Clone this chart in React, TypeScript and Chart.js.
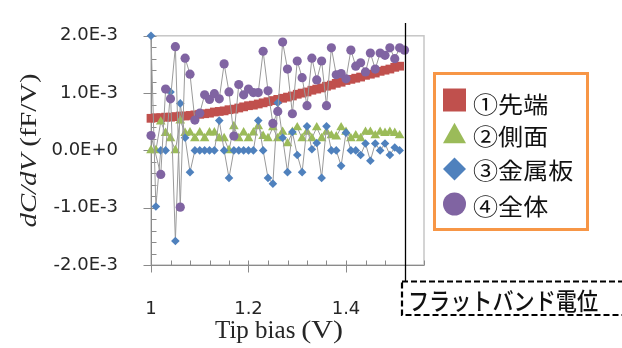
import React, { useEffect, useRef } from 'react';
import { Chart, registerables } from 'chart.js';

Chart.register(...registerables);

// Tip bias (V)
const biasV = [
  1.00, 1.01, 1.02, 1.03, 1.04, 1.05, 1.06, 1.07, 1.08, 1.09,
  1.10, 1.11, 1.12, 1.13, 1.14, 1.15, 1.16, 1.17, 1.18, 1.19,
  1.20, 1.21, 1.22, 1.23, 1.24, 1.25, 1.26, 1.27, 1.28, 1.29,
  1.30, 1.31, 1.32, 1.33, 1.34, 1.35, 1.36, 1.37, 1.38, 1.39,
  1.40, 1.41, 1.42, 1.43, 1.44, 1.45, 1.46, 1.47, 1.48, 1.49,
  1.50, 1.51, 1.52,
];

// dC/dV in units of 1E-3 fF/V
const tipValues = [
  0.56, 0.57, 0.57, 0.58, 0.58, 0.59, 0.60, 0.60, 0.61, 0.62,
  0.63, 0.64, 0.65, 0.67, 0.68, 0.69, 0.71, 0.72, 0.74, 0.76,
  0.78, 0.79, 0.81, 0.83, 0.85, 0.87, 0.89, 0.91, 0.93, 0.95,
  0.98, 1.00, 1.02, 1.05, 1.07, 1.09, 1.12, 1.14, 1.17, 1.19,
  1.22, 1.24, 1.26, 1.28, 1.31, 1.33, 1.35, 1.38, 1.40, 1.42,
  1.45, 1.47,
];

const sideValues = [
  0.00, 0.00, 0.50, 0.30, 0.21, 0.00, 0.52, 0.30, 0.31, 0.21,
  0.31, 0.21, 0.31, 0.31, 0.21, 0.21, 0.00, 0.42, 0.21, 0.31,
  0.21, 0.31, 0.42, 0.25, 0.21, 0.40, 0.21, 0.32, 0.12, 0.32,
  0.40, 0.21, 0.32, 0.21, 0.40, 0.21, 0.32, 0.26, 0.24, 0.40,
  0.32, 0.21, 0.26, 0.21, 0.32, 0.32, 0.26, 0.32, 0.30, 0.32,
  0.30, 0.26,
];

const plateValues = [
  2.00, -0.98, 0.00, 0.00, 1.02, -1.58, 0.82, 0.22, -0.38, 0.00,
  0.00, 0.00, 0.00, 0.00, 0.52, 0.00, -0.48, 0.00, 0.00, 0.00,
  0.00, 0.00, 0.52, 0.00, -0.48, -0.58, 0.83, 0.22, -0.38, 0.32,
  -0.08, -0.38, 0.42, 0.02, 0.13, -0.48, 0.42, 0.00, 0.00, -0.27,
  0.31, 0.00, 0.00, -0.08, 0.12, -0.18, 0.12, 0.00, 0.12, -0.08,
  0.05, 0.00,
];

const totalValues = [
  0.26, null, -0.42, 1.07, 0.90, 1.81, -0.99, 1.61, 1.33, 0.53,
  0.65, 0.97, 0.89, 0.99, 0.90, 1.51, 1.02, 0.25, 1.15, 0.97,
  1.07, 1.01, 1.01, 1.73, 1.04, 0.47, 0.68, 1.89, 1.42, 0.64,
  1.56, 1.27, 0.78, 1.61, 1.23, 1.56, 0.78, 1.79, 1.32, 1.34,
  1.25, 1.75, 1.47, 1.53, 1.37, 1.70, 1.42, 1.70, 1.66, 1.79,
  1.60, 1.79, 1.75,
];

const seriesNames = ['①先端', '②側面', '③金属板', '④全体'];
const seriesColors = ['#C0504D', '#9BBB59', '#4F81BD', '#8064A2'];

const xTickValues = [1, 1.2, 1.4];
const xTickLabels = ['1', '1.2', '1.4'];
const yTickValues = [-2, -1, 0, 1, 2];
const yTickLabels = ['-2.0E-3', '-1.0E-3', '0.0E+0', '1.0E-3', '2.0E-3'];

const flatBandV = 1.52;
const flatBandLabel = 'フラットバンド電位';
const xTitleMain = 'Tip bias';
const xTitleUnit = '(V)';
const yTitleItalic = 'dC/dV';
const yTitleRest = ' (fF/V)';

const AXIS_COLOR = '#8a8a8a';
const TEXT_COLOR = '#262626';
const LINE_COLOR = '#9a9a9a';

const toPoints = (vals: (number | null)[]) =>
  vals.map((v, i) => ({ x: biasV[i], y: v }));

function drawMarker(ctx: CanvasRenderingContext2D, style: string, x: number, y: number, s: number, color: string) {
  ctx.save();
  ctx.fillStyle = color;
  ctx.beginPath();
  if (style === 'rect') {
    ctx.rect(x - s / 2, y - s / 2, s, s);
  } else if (style === 'triangle') {
    ctx.moveTo(x, y - s * 0.45);
    ctx.lineTo(x + s / 2, y + s * 0.45);
    ctx.lineTo(x - s / 2, y + s * 0.45);
    ctx.closePath();
  } else if (style === 'rectRot') {
    ctx.moveTo(x, y - s / 2);
    ctx.lineTo(x + s / 2, y);
    ctx.lineTo(x, y + s / 2);
    ctx.lineTo(x - s / 2, y);
    ctx.closePath();
  } else {
    ctx.arc(x, y, s / 2, 0, Math.PI * 2);
  }
  ctx.fill();
  ctx.restore();
}

function fitText(ctx: CanvasRenderingContext2D, text: string, x: number, y: number, width: number) {
  const w = ctx.measureText(text).width;
  ctx.save();
  ctx.translate(x, y);
  ctx.scale(width / w, 1);
  ctx.fillText(text, 0, 0);
  ctx.restore();
}

const decorPlugin = {
  id: 'decor',
  beforeDatasetsDraw(chart: any) {
    const { ctx, chartArea: a } = chart;
    const xs = chart.scales.x;
    const ys = chart.scales.y;
    ctx.save();
    // plot-area frame
    ctx.strokeStyle = '#c6c6c6';
    ctx.lineWidth = 1.5;
    ctx.strokeRect(a.left, a.top, a.right - a.left, a.bottom - a.top);

    // axis lines
    const ax = Math.round(a.left) + 0.5;
    const ay = Math.round(a.bottom) + 0.5;
    ctx.strokeStyle = AXIS_COLOR;
    ctx.lineWidth = 1;
    ctx.beginPath();
    ctx.moveTo(ax, a.top);
    ctx.lineTo(ax, ay);
    ctx.lineTo(a.right, ay);

    // x ticks: majors cross the axis, minors sit inside
    for (let k = 0; k <= 14; k++) {
      const v = 1 + k * 0.04;
      const px = Math.round(xs.getPixelForValue(v)) + 0.5;
      const major = k % 5 === 0;
      ctx.moveTo(px, ay - 5);
      ctx.lineTo(px, ay + (major ? 7 : 0));
    }
    // y ticks
    for (let k = 0; k <= 20; k++) {
      const v = -2 + k * 0.2;
      const py = Math.round(ys.getPixelForValue(v)) + 0.5;
      const major = k % 5 === 0;
      ctx.moveTo(ax - (major ? 8 : 0), py);
      ctx.lineTo(ax + 5, py);
    }
    ctx.stroke();
    ctx.restore();
  },
  afterDatasetsDraw(chart: any) {
    const { ctx } = chart;
    const px = Math.round(chart.scales.x.getPixelForValue(flatBandV)) + 0.5;
    ctx.save();
    ctx.strokeStyle = '#000';
    ctx.lineWidth = 1.3;
    ctx.beginPath();
    ctx.moveTo(px, 23);
    ctx.lineTo(px, 281);
    ctx.stroke();
    ctx.restore();
  },
  afterDraw(chart: any) {
    const { ctx, chartArea: a } = chart;
    ctx.save();
    ctx.fillStyle = TEXT_COLOR;

    // y-axis title (italic quantity, upright unit)
    ctx.font = 'italic 24px "Liberation Serif"';
    const w1 = ctx.measureText(yTitleItalic).width;
    ctx.font = '24px "Liberation Serif"';
    const w2 = ctx.measureText(yTitleRest).width;
    const cy = (a.top + a.bottom) / 2;
    ctx.save();
    ctx.translate(36, cy);
    ctx.rotate(-Math.PI / 2);
    ctx.scale(154 / (w1 + w2), 1);
    ctx.textBaseline = 'alphabetic';
    ctx.textAlign = 'left';
    ctx.font = 'italic 24px "Liberation Serif"';
    ctx.fillText(yTitleItalic, -(w1 + w2) / 2, 0);
    ctx.font = '24px "Liberation Serif"';
    ctx.fillText(yTitleRest, -(w1 + w2) / 2 + w1, 0);
    ctx.restore();

    // x-axis title
    ctx.textBaseline = 'alphabetic';
    ctx.textAlign = 'left';
    ctx.font = '25px "Liberation Serif"';
    const wm = ctx.measureText(xTitleMain).width;
    ctx.fillText(xTitleMain, 215, 338);
    fitText(ctx, xTitleUnit, 215 + wm + 6, 338, 128 - wm - 6);

    // legend
    ctx.strokeStyle = '#F79646';
    ctx.lineWidth = 3;
    ctx.strokeRect(434.5, 73.5, 153, 156);
    const styles = ['rect', 'triangle', 'rectRot', 'circle'];
    const markerY = [100, 133, 169, 204];
    const textY = [104, 136, 170, 206];
    ctx.font = '23px "Noto Sans CJK JP"';
    ctx.textBaseline = 'middle';
    ctx.fillStyle = '#111';
    seriesNames.forEach((name, i) => {
      drawMarker(ctx, styles[i], 454.5, markerY[i], 23, seriesColors[i]);
      const w = ctx.measureText(name).width;
      fitText(ctx, name, 473, textY[i], w * 1.09);
    });

    // flat-band annotation box
    const bx = Math.round(chart.scales.x.getPixelForValue(flatBandV)) - 3;
    ctx.strokeStyle = '#000';
    ctx.lineWidth = 2.2;
    ctx.setLineDash([6, 3]);
    ctx.strokeRect(bx, 281.5, 240, 33.5);
    ctx.setLineDash([]);
    ctx.font = '500 24px "Noto Sans CJK JP"';
    ctx.textBaseline = 'middle';
    ctx.fillStyle = '#111';
    fitText(ctx, flatBandLabel, bx + 6, 301, 190);
    ctx.restore();
  },
};

export default function App() {
  const canvasRef = useRef<HTMLCanvasElement | null>(null);

  useEffect(() => {
    document.body.style.margin = '0';
    const canvas = canvasRef.current;
    if (!canvas) return;

    const common = {
      borderColor: LINE_COLOR,
      borderWidth: 1,
      showLine: true,
      pointBorderWidth: 0,
      pointHoverRadius: 0,
      clip: false as const,
      tension: 0,
    };

    const chart = new Chart(canvas, {
      type: 'line',
      data: {
        datasets: [
          {
            ...common,
            label: seriesNames[0],
            data: toPoints(tipValues),
            pointStyle: 'rect',
            pointRadius: 6.2,
            pointBackgroundColor: seriesColors[0],
            order: 3,
          },
          {
            ...common,
            label: seriesNames[1],
            data: toPoints(sideValues),
            pointStyle: 'triangle',
            pointRadius: 5.6,
            pointBackgroundColor: seriesColors[1],
            order: 2,
          },
          {
            ...common,
            label: seriesNames[2],
            data: toPoints(plateValues),
            pointStyle: 'rectRot',
            pointRadius: 4.3,
            pointBackgroundColor: seriesColors[2],
            order: 1,
          },
          {
            ...common,
            label: seriesNames[3],
            data: toPoints(totalValues),
            pointStyle: 'circle',
            pointRadius: 4.6,
            pointBackgroundColor: seriesColors[3],
            spanGaps: true,
            order: 0,
          },
        ],
      },
      options: {
        responsive: false,
        devicePixelRatio: 1,
        animation: false,
        events: [],
        layout: { padding: { left: 0, right: 198, top: 25.7, bottom: 0 } },
        plugins: {
          legend: { display: false },
          tooltip: { enabled: false },
          title: { display: false },
        },
        scales: {
          x: {
            type: 'linear',
            min: 1,
            max: 1.56,
            grid: { display: false },
            border: { display: false },
            afterFit: (s: any) => { s.height = 83; },
            afterBuildTicks: (s: any) => { s.ticks = xTickValues.map((v) => ({ value: v })); },
            ticks: {
              autoSkip: false,
              maxRotation: 0,
              padding: 26,
              color: TEXT_COLOR,
              font: { family: '"DejaVu Sans"', size: 18 },
              callback: (_v: any, i: number) => xTickLabels[i],
            },
          },
          y: {
            type: 'linear',
            min: -2,
            max: 2,
            grid: { display: false },
            border: { display: false },
            afterFit: (s: any) => { s.width = 151; },
            afterBuildTicks: (s: any) => { s.ticks = yTickValues.map((v) => ({ value: v })); },
            ticks: {
              autoSkip: false,
              padding: 25,
              color: TEXT_COLOR,
              font: { family: '"DejaVu Sans"', size: 18 },
              callback: (_v: any, i: number) => yTickLabels[i],
            },
          },
        },
      },
      plugins: [decorPlugin],
    });

    return () => chart.destroy();
  }, []);

  return (
    <div style={{ position: 'absolute', left: 0, top: 0, width: 622, height: 348, background: '#fff' }}>
      <canvas ref={canvasRef} width={622} height={348} style={{ display: 'block' }} />
    </div>
  );
}
